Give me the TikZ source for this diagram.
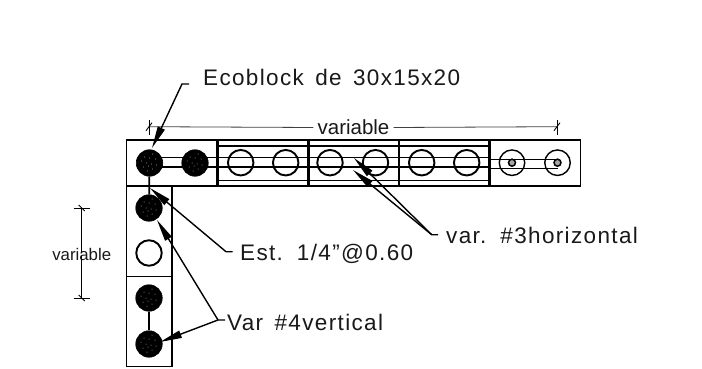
\documentclass[tikz,border=0pt]{standalone}
\usepackage{fontspec}
\setmainfont{Liberation Sans}
\newfontfamily\cadfont[LetterSpace=6,WordSpace=1.5]{Liberation Sans}
\usetikzlibrary{arrows.meta}
\tikzset{
  wall/.style={draw=black,line width=1.4pt},
  block/.style={draw=black,line width=2.4pt},
  bar/.style={draw=black,line width=1.5pt},
  openbar/.style={circle,draw=black,line width=1.9pt,minimum size=25.5pt,inner sep=0pt,fill=none},
  solidbar/.style={circle,draw=black,line width=.6pt,fill=black,minimum size=26.5pt,inner sep=0pt},
  smallbar/.style={circle,draw=black,line width=1.5pt,fill=black!35,minimum size=7pt,inner sep=0pt},
  leader/.style={draw=black,line width=1.4pt},
  tiparrow/.style={leader,-{Triangle[length=22pt,width=7.5pt]}},
  dimline/.style={draw=black!75,line width=.8pt},
  tick/.style={draw=black,line width=.9pt},
  cadtext/.style={font=\cadfont\fontsize{22.5}{24}\selectfont,anchor=west,inner sep=0pt,text=black!90},
  dimtext/.style={font=\fontsize{16.8}{18}\selectfont,inner sep=0pt,text=black!90}
}
\newcommand{\specks}[1]{%
  \foreach \dx/\dy in {-6/-4,-2/-8,3/-6,7/-2,-8/2,-3/0,2/-1,6/4,-5/6,0/5,3/9,-1/-3}
    \fill[white!70!black] ([shift={(\dx pt,\dy pt)}]#1.center) circle (.5pt);}
\begin{document}
\begin{tikzpicture}[x=1pt,y=-1pt]
\useasboundingbox (0,0) rectangle (702,369);
\fill[white] (0,0) rectangle (702,369);
% walls
\draw[wall] (126.7,140) rectangle (580.5,186);
\draw[wall] (126.7,186) rectangle (172,366.7);
\draw[wall] (126.7,276.7) -- (172,276.7);
% rebar lines
\foreach \yy in {157.7,167}
  \draw[bar] (150,\yy) -- (490,\yy);
\foreach \yy in {146,180.7}
  \draw[bar] (217.3,\yy) -- (489.3,\yy);
\draw[bar] (489.3,159.5) -- (558,159.5);
\draw[bar] (489.3,168.5) -- (558,168.5);
% blocks
\draw[block] (217.3,140) rectangle (308.3,186);
\draw[block] (308.3,140) rectangle (398.7,186);
\draw[block] (398.7,140) rectangle (489.3,186);
% bars
\node[solidbar] (h1) at (149.5,163) {};
\node[solidbar] (h2) at (195,163) {};
\node[openbar] (h3) at (240.7,162.7) {};
\node[openbar] (h4) at (285.7,162.7) {};
\node[openbar] (h5) at (330,162.7) {};
\node[openbar] (h6) at (375.5,162.7) {};
\node[openbar] (h7) at (421.7,162.7) {};
\node[openbar] (h8) at (466.7,162.7) {};
\node[openbar,line width=1.4pt] (h9) at (512,162.7) {};
\node[openbar,line width=1.4pt] (h10) at (557.5,162.7) {};
\node[smallbar] (s9) at (512,162.7) {};
\node[smallbar] (s10) at (557.5,162.7) {};
\node[solidbar] (v1) at (149,208) {};
\node[openbar,fill=white] (v2) at (149,253) {};
\node[solidbar] (v3) at (149,298) {};
\node[solidbar] (v4) at (149,344) {};
\draw[line width=1.8pt] (h1) -- (v1);
\draw[line width=1.8pt] (v3) -- (v4);
\specks{h1}\specks{h2}\specks{v1}\specks{v3}\specks{v4}
% top dimension
\node[dimtext,font=\fontsize{20.5}{22}\selectfont] (topvar) at (353.5,127.5) {variable};
\coordinate (ta) at (149,126.7);
\coordinate (tb) at (557,126.7);
\draw[dimline] (ta) -- ([xshift=-4pt]topvar.west);
\draw[dimline] (tb) -- ([xshift=4pt]topvar.east);
\draw[tick] (ta) ++(0,-7) -- ++(0,15);
\draw[tick] (ta) ++(-3,4) -- ++(6,-8);
\draw[tick] (tb) ++(0,-7) -- ++(0,15);
\draw[tick] (tb) ++(-3,4) -- ++(6,-8);
% left dimension
\node[dimtext] (leftvar) at (81.7,254) {variable};
\coordinate (la) at (81.7,208);
\coordinate (lb) at (81.7,298);
\draw[dimline,draw=black] (la) -- ([yshift=-4pt]leftvar.north);
\draw[dimline,draw=black] (lb) -- ([yshift=4pt]leftvar.south);
\draw[tick] (la) ++(-8,0) -- ++(16,0);
\draw[tick] (la) ++(-3,-3) -- ++(6,6);
\draw[tick] (lb) ++(-8,0) -- ++(16,0);
\draw[tick] (lb) ++(-3,-3) -- ++(6,6);
% labels
\node[cadtext] (eco) at (203,77) {Ecoblock de 30x15x20};
\node[cadtext] (est) at (240,254) {Est. 1/4”@0.60};
\node[cadtext] (var3) at (446,235) {var. \#3horizontal};
\node[cadtext] (var4) at (227,322) {Var \#4vertical};
% leaders
\coordinate (ecoA) at (189,84);
\coordinate (ecoB) at (182,84);
\coordinate (ecoT) at (152,148);
\draw[tiparrow] (ecoA) -- (ecoB) -- (ecoT);
\coordinate (estA) at (232.7,251.7);
\coordinate (estB) at (226,251.7);
\coordinate (estT) at (150,188);
\draw[tiparrow] (estA) -- (estB) -- (estT);
\coordinate (v4A) at (225,320);
\coordinate (v4B) at (218,320);
\coordinate (v4T) at (157,220);
\coordinate (v4U) at (160,342);
\draw[tiparrow] (v4A) -- (v4B) -- (v4T);
\draw[tiparrow] (v4B) -- (v4U);
\coordinate (h3A) at (438,234.7);
\coordinate (h3B) at (431.7,234.7);
\coordinate (h3T) at (354,158);
\coordinate (h3U) at (353,170);
\draw[tiparrow] (h3A) -- (h3B) -- (h3T);
\draw[tiparrow] (h3B) -- (h3U);
\end{tikzpicture}
\end{document}
